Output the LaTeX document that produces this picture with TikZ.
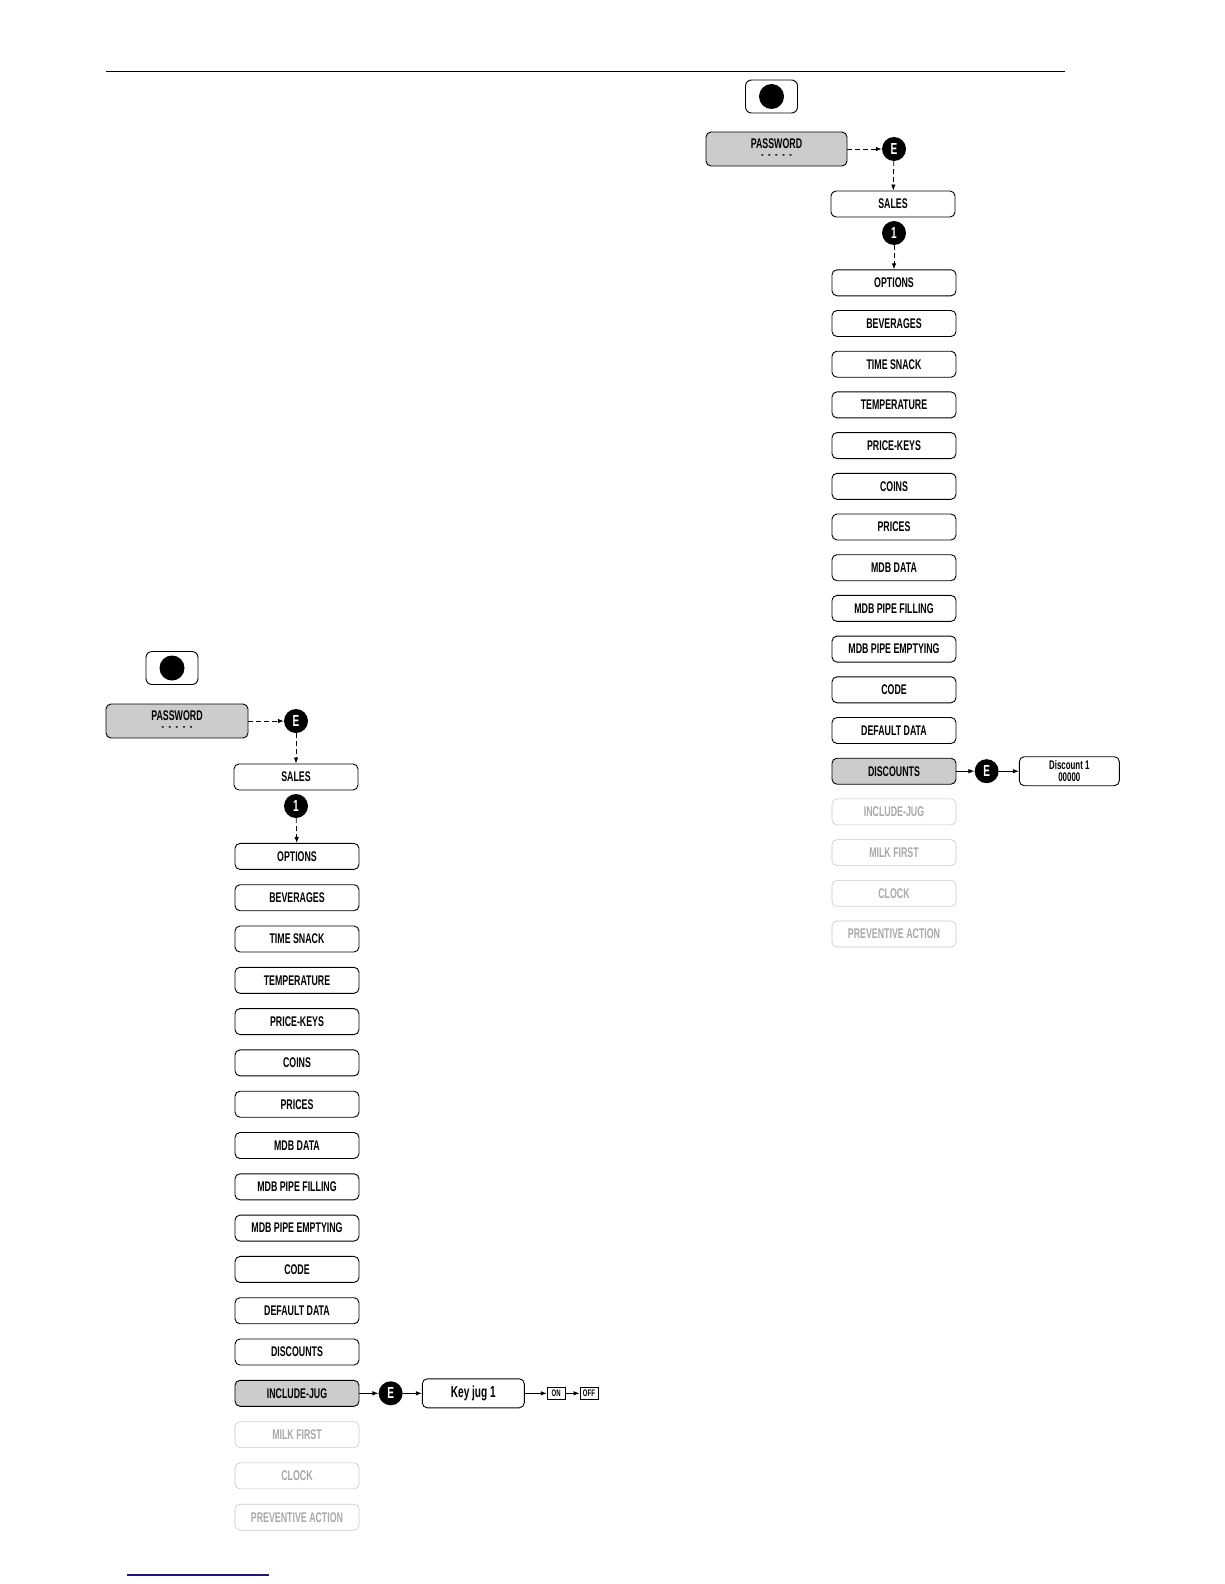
\documentclass[tikz,border=0pt]{standalone}
\usepackage{fontspec}
\newfontface\menufont{Liberation Sans Bold}[FakeStretch=0.63]
\usepackage{tikz}
\usetikzlibrary{arrows.meta,positioning,calc}
\definecolor{selgray}{gray}{0.8}
\definecolor{dimgray}{gray}{0.78}
\definecolor{dimtext}{gray}{0.66}
\definecolor{linkblue}{rgb}{0.1,0.1,0.5}
\newcommand{\pwdots}{{\fontsize{12}{12}\selectfont -\hspace{4.5pt}-\hspace{4.5pt}-\hspace{4.5pt}-\hspace{4.5pt}-}}

\tikzset{
  menu/.style={draw, line width=0.9pt, rounded corners=5pt, minimum width=124pt,
    minimum height=26pt, inner sep=0pt, font=\menufont\fontsize{14}{15}\selectfont},
  menusel/.style={menu, fill=selgray},
  menudim/.style={menu, draw=dimgray, text=dimtext, line width=0.6pt},
  keyball/.style={circle, fill=black, text=white, inner sep=0pt, minimum size=24pt,
    font=\menufont\fontsize{16}{16}\selectfont},
  btn/.style={draw, line width=0.9pt, rounded corners=6pt, minimum width=52pt, minimum height=33pt},
  valbox/.style={draw, line width=0.9pt, rounded corners=5pt, minimum height=29pt,
    inner sep=0pt, align=center},
  onoff/.style={draw, line width=0.8pt, inner sep=0pt, minimum width=18pt, minimum height=12pt,
    font=\menufont\fontsize{9.5}{9.5}\selectfont},
  link/.style={-{Latex[length=6pt,width=4.5pt]}, line width=0.8pt},
  dlink/.style={link, dash pattern=on 5pt off 3pt},
}

\begin{document}
\begin{tikzpicture}[x=1pt, y=-1pt]
    \useasboundingbox (0,0) rectangle (1224,1584);

    % page rules
    \draw[line width=0.9pt] (106,71) -- (1065,71);
    \draw[line width=1.2pt, linkblue] (127,1575) -- (269,1575);

    % right column: start
    \node[btn] (btnR) at (771.5,96.5) {};
    \fill (btnR) circle (12.5pt);
    \node[menusel, minimum width=141pt, minimum height=34pt, align=center] (pwR) at (776.5,149)
        {PASSWORD\\[-5pt]\pwdots};
    \node[keyball] (eR) at (894,149) {E};
    \node[menu] (salesR) at (893,204) {SALES};
    \node[keyball] (oneR) at (894,233) {1};
    \draw[dlink] (pwR) -- (eR);
    \draw[dlink] (eR) -- (salesR);

    % right column: menu list
    \foreach \txt [count=\i] in {OPTIONS,BEVERAGES,TIME SNACK,TEMPERATURE,PRICE-KEYS,COINS,
        PRICES,MDB DATA,MDB PIPE FILLING,MDB PIPE EMPTYING,CODE,DEFAULT DATA}
        \node[menu] (R\i) at (894,{282.8+40.7*(\i-1)}) {\txt};
    \node[menusel] (R13) at (894,{282.8+40.7*12}) {DISCOUNTS};
    \foreach \txt [count=\i from 14] in {INCLUDE-JUG,MILK FIRST,CLOCK,PREVENTIVE ACTION}
        \node[menudim] (R\i) at (894,{282.8+40.7*(\i-1)}) {\txt};
    \draw[dlink] (oneR) -- (R1);

    % right column: discounts
    \node[keyball, right=18pt of R13] (eDisc) {E};
    \node[valbox, minimum width=100pt, right=20pt of eDisc,
        font=\menufont\fontsize{12.5}{12.5}\selectfont] (disc) {Discount 1\\00000};
    \draw[link] (R13) -- (eDisc);
    \draw[link] (eDisc) -- (disc);

    % left column: start
    \node[btn] (btnL) at (172,668) {};
    \fill (btnL) circle (12.5pt);
    \node[menusel, minimum width=142pt, minimum height=34pt, align=center] (pwL) at (177,721)
        {PASSWORD\\[-5pt]\pwdots};
    \node[keyball] (eL) at (296,721) {E};
    \node[menu] (salesL) at (296,777) {SALES};
    \node[keyball] (oneL) at (296,806) {1};
    \draw[dlink] (pwL) -- (eL);
    \draw[dlink] (eL) -- (salesL);

    % left column: menu list
    \foreach \txt [count=\i] in {OPTIONS,BEVERAGES,TIME SNACK,TEMPERATURE,PRICE-KEYS,COINS,
        PRICES,MDB DATA,MDB PIPE FILLING,MDB PIPE EMPTYING,CODE,DEFAULT DATA,DISCOUNTS}
        \node[menu] (L\i) at (297,{856.4+41.3*(\i-1)}) {\txt};
    \node[menusel] (L14) at (297,{856.4+41.3*13}) {INCLUDE-JUG};
    \foreach \txt [count=\i from 15] in {MILK FIRST,CLOCK,PREVENTIVE ACTION}
        \node[menudim] (L\i) at (297,{856.4+41.3*(\i-1)}) {\txt};
    \draw[dlink] (oneL) -- (L1);

    % left column: include jug
    \node[keyball, right=19pt of L14] (eJug) {E};
    \node[valbox, minimum width=102pt, right=19pt of eJug,
        font=\menufont\fontsize{16}{16}\selectfont] (jug) {Key jug 1};
    \node[onoff, right=22pt of jug] (on) {ON};
    \node[onoff, right=14pt of on] (off) {OFF};
    \draw[link] (L14) -- (eJug);
    \draw[link] (eJug) -- (jug);
    \draw[link] (jug) -- (on);
    \draw[link] (on) -- (off);
\end{tikzpicture}
\end{document}
